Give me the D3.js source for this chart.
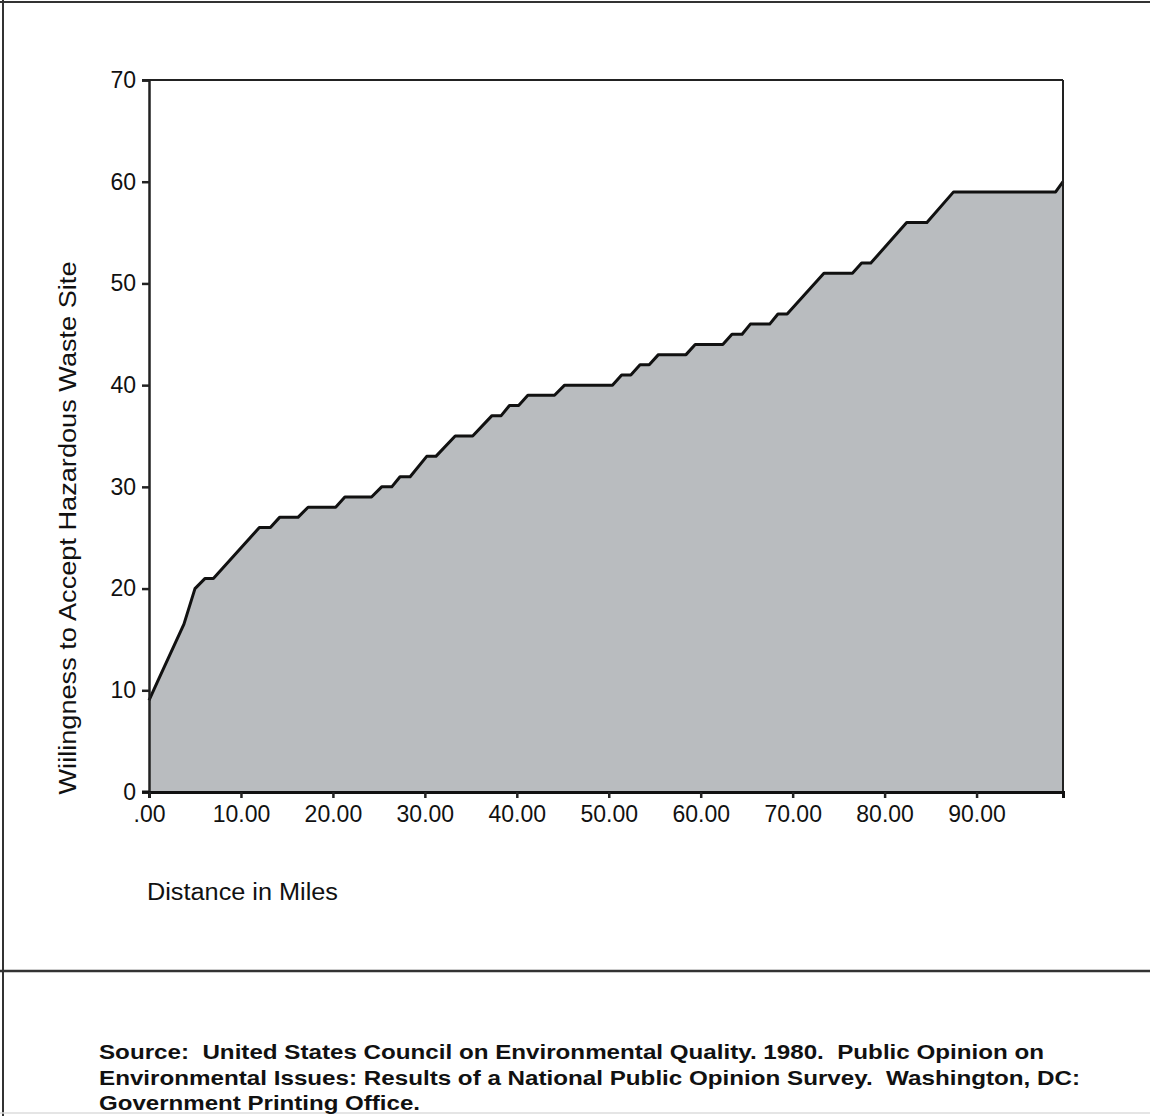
<!DOCTYPE html>
<html>
<head>
<meta charset="utf-8">
<script src="https://cdn.jsdelivr.net/npm/d3@7"></script>
<style>
  html, body { margin: 0; padding: 0; background: #ffffff; }
  svg { display: block; font-family: "Liberation Sans", Arial, Helvetica, sans-serif; }
  text { white-space: pre; }
</style>
</head>
<body>
<svg id="chart" width="1150" height="1116"></svg>
<script>
// ---- data (distance in miles, willingness %) ----
const distance = [0, 1.0, 3.8, 5.0, 6.1, 7.0, 12.0, 13.2, 14.2, 16.2, 17.3, 20.3, 21.3, 24.2, 25.3, 26.4,
  27.3, 28.4, 30.2, 31.2, 33.3, 35.2, 37.3, 38.3, 39.2, 40.2, 41.2, 44.1, 45.2, 50.4, 51.4, 52.4,
  53.4, 54.4, 55.4, 58.4, 59.4, 62.4, 63.4, 64.5, 65.4, 67.5, 68.4, 69.4, 73.4, 76.5, 77.5, 78.5,
  82.4, 84.6, 87.5, 98.6, 99.4];
const willingness = [9, 11, 16.5, 20, 21, 21, 26, 26, 27, 27, 28, 28, 29, 29, 30, 30,
  31, 31, 33, 33, 35, 35, 37, 37, 38, 38, 39, 39, 40, 40, 41, 41,
  42, 42, 43, 43, 44, 44, 45, 45, 46, 46, 47, 47, 51, 51, 52, 52,
  56, 56, 59, 59, 60];
const xTickValues = [0, 10, 20, 30, 40, 50, 60, 70, 80, 90];
const xTickLabels = [".00", "10.00", "20.00", "30.00", "40.00", "50.00", "60.00", "70.00", "80.00", "90.00"];
const yTickValues = [0, 10, 20, 30, 40, 50, 60, 70];
const xTitle = "Distance in Miles";
const yTitle = "Wiilingness to Accept Hazardous Waste Site";
const sourceLines = [
  "Source:  United States Council on Environmental Quality. 1980.  Public Opinion on",
  "Environmental Issues: Results of a National Public Opinion Survey.  Washington, DC:",
  "Government Printing Office."
];

(function () {
const svg = d3.select("#chart");
const W = 1150, H = 1116;

// outer frame
svg.append("line").attr("x1", 0).attr("x2", W).attr("y1", 2).attr("y2", 2)
  .attr("stroke", "#333").attr("stroke-width", 2);
svg.append("line").attr("x1", 3).attr("x2", 3).attr("y1", 0).attr("y2", H)
  .attr("stroke", "#333").attr("stroke-width", 2);
svg.append("line").attr("x1", 0).attr("x2", W).attr("y1", 971).attr("y2", 971)
  .attr("stroke", "#333").attr("stroke-width", 2.5);
svg.append("line").attr("x1", 0).attr("x2", W).attr("y1", 1113).attr("y2", 1113)
  .attr("stroke", "#ddd").attr("stroke-width", 1.5);

const pLeft = 149, pRight = 1063, pTop = 80, pBottom = 792;
const x = d3.scaleLinear().domain([0, 99.4]).range([pLeft, pRight]);
const y = d3.scaleLinear().domain([0, 70]).range([pBottom, pTop]);

const pts = distance.map((d, i) => [d, willingness[i]]);

// filled area
const area = d3.area().x(d => x(d[0])).y0(y(0)).y1(d => y(d[1]));
svg.append("path").datum(pts).attr("d", area).attr("fill", "#b9bcbf");

// curve
const line = d3.line().x(d => x(d[0])).y(d => y(d[1]));
svg.append("path").datum(pts).attr("d", line)
  .attr("fill", "none").attr("stroke", "#111").attr("stroke-width", 3).attr("stroke-linejoin", "round");

// plot frame: top & right
svg.append("line").attr("x1", pLeft - 7).attr("x2", pRight).attr("y1", y(70)).attr("y2", y(70))
  .attr("stroke", "#222").attr("stroke-width", 2);
svg.append("line").attr("x1", pRight).attr("x2", pRight).attr("y1", y(70)).attr("y2", y(0))
  .attr("stroke", "#222").attr("stroke-width", 2);

// y axis
const yAxis = d3.axisLeft(y).tickValues(yTickValues).tickSize(7).tickPadding(6).tickFormat(d3.format("d"));
const gy = svg.append("g").attr("transform", `translate(${pLeft},0)`).call(yAxis);
gy.select(".domain").attr("stroke", "#222").attr("stroke-width", 2.5);
gy.selectAll(".tick line").attr("stroke", "#222").attr("stroke-width", 2.5);
gy.selectAll(".tick text").attr("font-size", 23).attr("fill", "#111").attr("font-family", "Liberation Sans, Arial, sans-serif");

// x axis
const xAxis = d3.axisBottom(x).tickValues(xTickValues).tickSize(6).tickPadding(8)
  .tickFormat((d, i) => xTickLabels[i]);
const gx = svg.append("g").attr("transform", `translate(0,${pBottom})`).call(xAxis);
gx.select(".domain").attr("stroke", "#111").attr("stroke-width", 3);
gx.selectAll(".tick line").attr("stroke", "#222").attr("stroke-width", 2.5);
gx.selectAll(".tick text").attr("font-size", 23).attr("fill", "#111").attr("font-family", "Liberation Sans, Arial, sans-serif");
gx.append("line").attr("x1", pLeft - 7).attr("x2", pLeft).attr("y1", 0).attr("y2", 0)
  .attr("stroke", "#111").attr("stroke-width", 3);

// axis titles
svg.append("text").attr("x", 147).attr("y", 900).attr("font-size", 23).attr("fill", "#111")
  .attr("textLength", 191).attr("lengthAdjust", "spacingAndGlyphs")
  .text(xTitle);
svg.append("text").attr("transform", "translate(76,528) rotate(-90)").attr("text-anchor", "middle")
  .attr("font-size", 23).attr("fill", "#111")
  .attr("textLength", 533).attr("lengthAdjust", "spacingAndGlyphs")
  .text(yTitle);

// source note
const srcWidths = [945, 981, 321];
svg.selectAll("text.src").data(sourceLines).join("text").attr("class", "src")
  .attr("x", 99).attr("y", (d, i) => 1059 + i * 25.5)
  .attr("font-size", 20).attr("font-weight", "bold").attr("fill", "#111")
  .attr("textLength", (d, i) => srcWidths[i]).attr("lengthAdjust", "spacingAndGlyphs")
  .text(d => d);
})();
</script>
</body>
</html>
